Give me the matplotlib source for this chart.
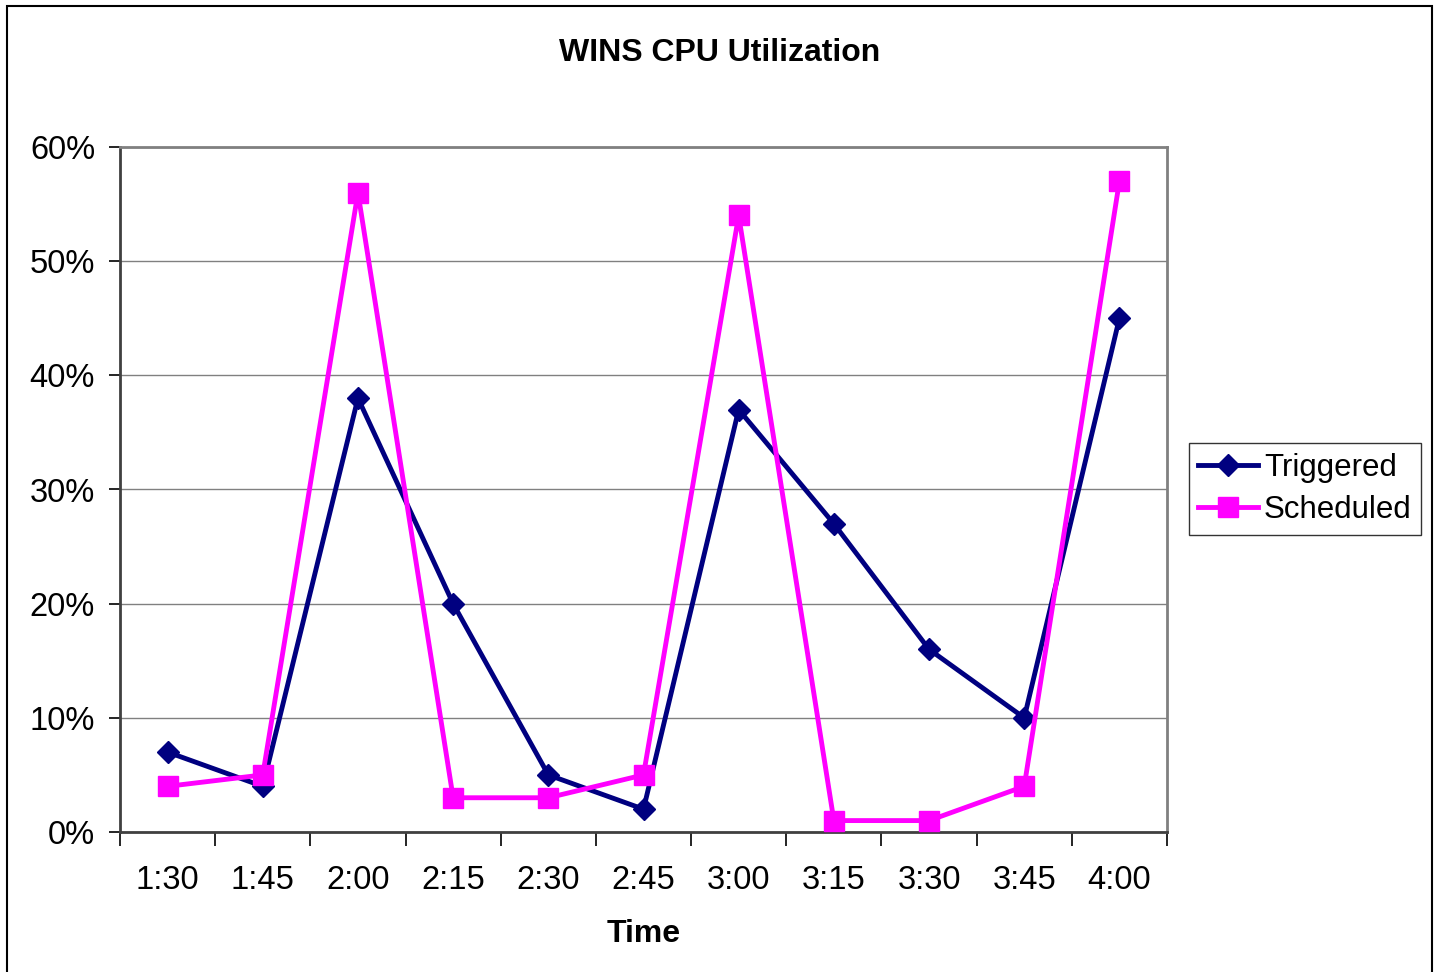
import matplotlib
matplotlib.use("Agg")
import matplotlib.pyplot as plt
from matplotlib.patches import Rectangle

plt.rcParams['font.family'] = ['Liberation Sans', 'DejaVu Sans']

times = ["1:30", "1:45", "2:00", "2:15", "2:30", "2:45", "3:00", "3:15", "3:30", "3:45", "4:00"]
triggered = [7, 4, 38, 20, 5, 2, 37, 27, 16, 10, 45]
scheduled = [4, 5, 56, 3, 3, 5, 54, 1, 1, 4, 57]
yticks = [0, 10, 20, 30, 40, 50, 60]

W, H = 1438, 972
fig = plt.figure(figsize=(W / 100, H / 100), dpi=100)
ax = fig.add_axes([120 / W, 1 - 832 / H, (1167 - 120) / W, (832 - 147) / H])

# figure border (bottom edge falls outside the image)
fig.patches.append(Rectangle((7 / W, -0.01), (1432 - 7) / W, 1.01 - 6 / H, transform=fig.transFigure,
                             fill=False, edgecolor='black', linewidth=1.5))

x = list(range(len(times)))
ax.plot(x, triggered, color='#000080', linewidth=3.5, marker='D', markersize=11, label='Triggered', zorder=3)
ax.plot(x, scheduled, color='#FF00FF', linewidth=3.5, marker='s', markersize=14, label='Scheduled', zorder=3)

ax.set_xlim(-0.5, len(times) - 0.5)
ax.set_ylim(0, 60)
ax.set_yticks(yticks)
ax.set_yticklabels([f"{v}%" for v in yticks], fontsize=23.5)
ax.set_xticks(x)
ax.set_xticklabels(times, fontsize=23.5)
ax.tick_params(axis='x', length=0, pad=24)
ax.set_xticks([i - 0.5 for i in range(len(times) + 1)], minor=True)
ax.tick_params(axis='x', which='minor', length=10, width=1.2, color='black', direction='out')
ax.tick_params(axis='y', length=8, width=1.2, direction='out', pad=10)
ax.grid(axis='y', color='#808080', linewidth=1)
ax.set_axisbelow(True)
for s in ['top', 'right']:
    ax.spines[s].set_color('#808080')
    ax.spines[s].set_linewidth(2)
ax.spines['left'].set_color('#404040')
ax.spines['bottom'].set_color('#404040')
ax.spines['left'].set_linewidth(2)
ax.spines['bottom'].set_linewidth(2)

ax.set_xlabel("Time", fontsize=23, fontweight='bold', labelpad=16)
fig.text(720 / W, 1 - 53 / H, "WINS CPU Utilization", fontsize=23, fontweight='bold', ha='center', va='center')

leg = ax.legend(loc='center left', bbox_to_anchor=(1189 / W, 1 - 489 / H), bbox_transform=fig.transFigure,
                fontsize=22.5, frameon=True, fancybox=False, edgecolor='black', handlelength=1.9,
                handletextpad=0.2, borderpad=0.3, labelspacing=0.4, borderaxespad=0)
leg.get_frame().set_linewidth(1)

fig.savefig("out.png", dpi=100)
